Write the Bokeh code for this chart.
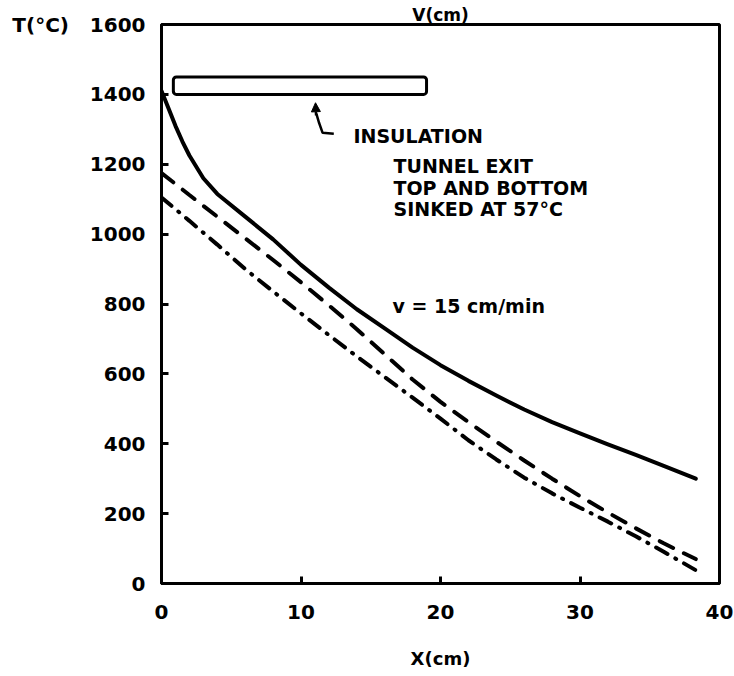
from bokeh.plotting import figure
from bokeh.models import Label, Arrow, NormalHead, FixedTicker, Range1d
from bokeh.embed import file_html
from bokeh.resources import INLINE

# ---- data ----
x_solid = [0, 0.5, 1, 1.5, 2, 3, 4, 6, 8, 10, 12, 14, 16, 18, 20, 22, 24, 26, 28, 30, 32, 34, 36, 38.3]
y_solid = [1410, 1360, 1310, 1265, 1225, 1160, 1115, 1050, 985, 912, 847, 785, 730, 675, 625, 580, 538, 498, 462, 430, 398, 368, 337, 300]

x_grid = [0, 2, 4, 6, 8, 10, 12, 14, 16, 18, 20, 22, 24, 26, 28, 30, 32, 34, 36, 38.3]
y_dashed = [1175, 1112, 1050, 988, 926, 862, 796, 728, 656, 584, 520, 462, 406, 352, 300, 250, 203, 158, 115, 70]
y_dashdot = [1105, 1038, 970, 900, 836, 773, 711, 650, 591, 532, 472, 410, 355, 303, 258, 217, 177, 135, 91, 38]

x_ticks = [0, 10, 20, 30, 40]
y_ticks = [0, 200, 400, 600, 800, 1000, 1200, 1400, 1600]

insul_left, insul_right, insul_bottom, insul_top = 0.85, 19.0, 1400, 1450

FONT = "DejaVu Sans"
NB = "\u00a0"

p = figure(width=734, height=676, output_backend="svg", toolbar_location=None,
           x_range=Range1d(0, 40), y_range=Range1d(0, 1600),
           min_border_left=161, min_border_right=15, min_border_top=24, min_border_bottom=93)
p.background_fill_color = "white"
p.border_fill_color = "white"
p.outline_line_color = "black"
p.outline_line_width = 3
p.grid.visible = False

# partially visible heading at the very top
p.title.text = "V(cm)"
p.title.align = "center"
p.title.offset = -3
p.title.standoff = 0
p.title.text_font = FONT
p.title.text_font_style = "bold"
p.title.text_font_size = "17px"
p.title.text_color = "black"

for ax in (p.xaxis[0], p.yaxis[0]):
    ax.axis_line_width = 3
    ax.axis_line_color = "black"
    ax.major_tick_in = 7
    ax.major_tick_out = 0
    ax.major_tick_line_width = 3
    ax.minor_tick_line_color = None
    ax.major_label_text_font = FONT
    ax.major_label_text_font_style = "bold"
    ax.major_label_text_font_size = "20px"
    ax.major_label_text_color = "black"

p.xaxis.ticker = FixedTicker(ticks=x_ticks)
p.yaxis.ticker = FixedTicker(ticks=y_ticks)
p.xaxis.major_label_standoff = 21
p.yaxis.major_label_standoff = 16
# the y-axis title "T(°C)" sits on the same line as the top tick label
p.yaxis.major_label_overrides = {1600: "T(°C)" + NB * 3 + "1600"}

p.xaxis.axis_label = "X(cm)"
p.xaxis.axis_label_standoff = 26
p.xaxis.axis_label_text_font = FONT
p.xaxis.axis_label_text_font_style = "bold"
p.xaxis.axis_label_text_font_size = "18px"
p.xaxis.axis_label_text_color = "black"

# curves
p.line(x_solid, y_solid, line_color="black", line_width=4, line_cap="round", line_join="round")
p.line(x_grid, y_dashed, line_color="black", line_width=4, line_dash="15 12", line_cap="round")
p.line(x_grid, y_dashdot, line_color="black", line_width=4, line_dash="13 9 1 9", line_cap="round")

# insulation bar
p.quad(left=[insul_left], right=[insul_right], bottom=[insul_bottom], top=[insul_top],
       fill_color="white", line_color="black", line_width=3, border_radius=3)

# arrow pointing at insulation
p.line([11.1, 11.3, 11.55, 12.35], [1345, 1318, 1290, 1287], line_color="black", line_width=2.5)
p.add_layout(Arrow(end=NormalHead(size=9, fill_color="black", line_color="black"),
                   x_start=11.08, y_start=1340, x_end=11.04, y_end=1376,
                   line_color="black", line_width=2.5))

def lab(txt, x, y, size="19px"):
    p.add_layout(Label(x=x, y=y, text=txt, text_font=FONT, text_font_style="bold",
                       text_font_size=size, text_align="left", text_baseline="middle",
                       text_color="black"))

lab("INSULATION", 13.76, 1280)
lab("TUNNEL EXIT", 16.63, 1194)
lab("TOP AND BOTTOM", 16.63, 1131)
lab("SINKED AT 57°C", 16.63, 1071)
lab("v = 15 cm/min", 16.56, 794)

open("out.html", "w").write(file_html(p, INLINE))
